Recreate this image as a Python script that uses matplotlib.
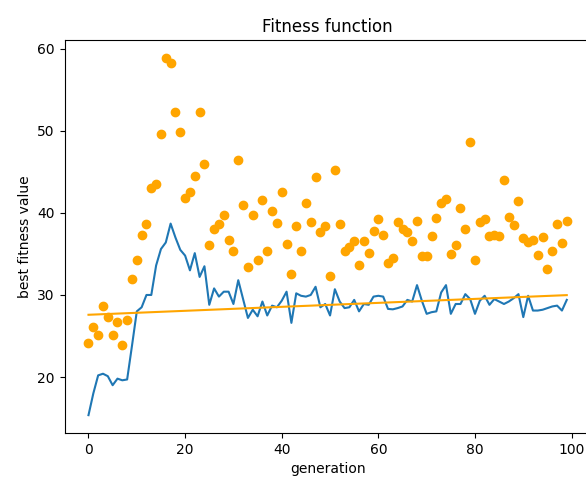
import numpy as np
import matplotlib
matplotlib.use('Agg')
import matplotlib.pyplot as plt

# best fitness per generation (blue line)
best_fitness = [
    15.35, 18.0, 20.2, 20.4, 20.1, 19.0, 19.8, 19.6, 19.7, 23.8,
    28.0, 28.5, 30.0, 30.0, 33.6, 35.6, 36.4, 38.7, 37.0, 35.5,
    34.8, 33.0, 35.1, 32.2, 33.5, 28.8, 30.8, 29.8, 30.4, 30.4,
    28.9, 31.8, 29.5, 27.2, 28.2, 27.4, 29.2, 27.5, 28.7, 28.5,
    29.3, 30.4, 26.6, 30.2, 29.9, 29.8, 30.0, 31.0, 28.5, 28.9,
    27.5, 30.7, 29.2, 28.4, 28.5, 29.4, 28.0, 28.9, 28.8, 29.8,
    29.9, 29.8, 28.3, 28.25, 28.4, 28.6, 29.4, 29.2, 31.2, 29.3,
    27.7, 27.9, 28.0, 30.3, 31.2, 27.7, 28.9, 28.9, 30.1, 29.5,
    27.7, 29.3, 29.9, 28.8, 29.5, 29.2, 28.9, 29.2, 29.6, 30.1,
    27.3, 29.9, 28.1, 28.1, 28.2, 28.4, 28.6, 28.7, 28.1, 29.4,
]

# fitness of each generation's sample (orange dots)
sample_fitness = [
    24.2, 26.1, 25.1, 28.6, 27.3, 25.1, 26.7, 23.9, 27.0, 32.0,
    34.3, 37.3, 38.7, 43.0, 43.5, 49.6, 58.9, 58.3, 52.3, 49.9,
    41.8, 42.6, 44.5, 52.3, 46.0, 36.1, 38.1, 38.6, 39.8, 36.7,
    35.4, 46.4, 41.0, 33.4, 39.8, 34.3, 41.6, 35.3, 40.2, 38.8,
    42.5, 36.2, 32.5, 38.4, 35.3, 41.2, 38.9, 44.4, 37.7, 38.4,
    32.3, 45.2, 38.6, 35.3, 35.9, 36.6, 33.6, 36.6, 35.1, 37.8,
    39.2, 37.3, 33.9, 34.5, 38.9, 38.0, 37.7, 36.6, 39.0, 34.7,
    34.7, 37.2, 39.4, 41.2, 41.7, 35.0, 36.1, 40.6, 38.0, 48.6,
    34.3, 38.9, 39.3, 37.2, 37.3, 37.2, 44.0, 39.5, 38.5, 41.5,
    36.9, 36.4, 36.7, 34.9, 37.1, 33.2, 35.3, 38.6, 36.3, 39.0,
]

generations = np.arange(len(best_fitness))

fig = plt.figure(figsize=(5.86, 4.78), dpi=100)
# axes run slightly past the right edge, like the cropped original
ax = fig.add_axes([0.1102, 0.0941, 0.8978, 0.8222])

ax.plot(generations, best_fitness)
ax.plot(generations, sample_fitness, 'o', color='orange')

# linear trend of the best fitness
slope, intercept = np.polyfit(generations, best_fitness, 1)
ax.plot(generations, slope * generations + intercept, color='orange')

ax.set_title('Fitness function')
ax.set_xlabel('generation')
ax.set_ylabel('best fitness value')

fig.savefig('out.png', dpi=100)
plt.close(fig)
